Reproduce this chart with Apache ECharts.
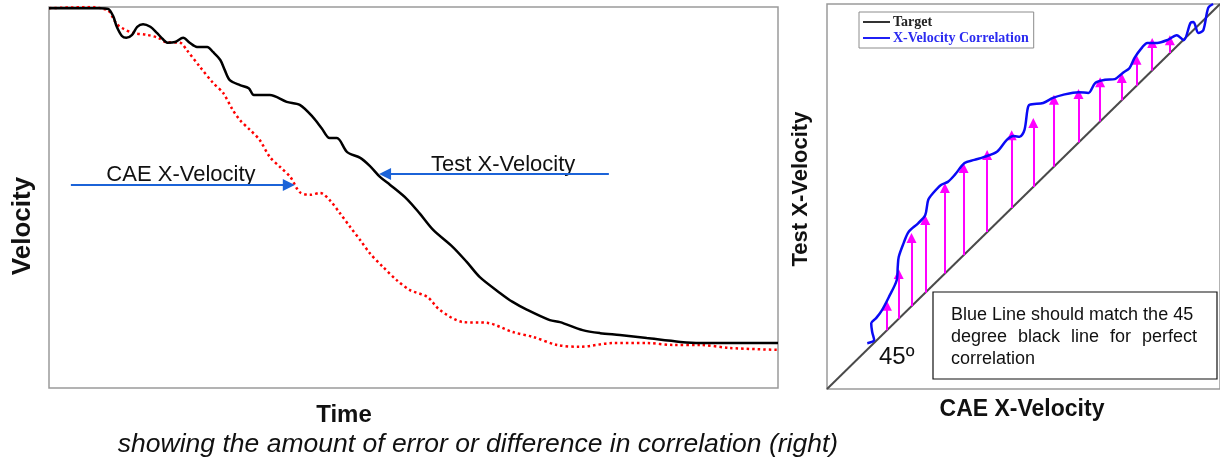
<!DOCTYPE html>
<html>
<head>
<meta charset="utf-8">
<script src="https://cdn.jsdelivr.net/npm/echarts@6/dist/echarts.min.js"></script>
<style>
  html, body { margin: 0; padding: 0; background: #fff; }
  #main { width: 1220px; height: 461px; }
</style>
</head>
<body>
<div id="main"></div>
<script>
// left panel: time (0-100) vs velocity (0-100)
var testVel = [
  [0, 99.7], [4.3, 99.7], [7.0, 99.7], [8.1, 99.5], [8.8, 97.6], [9.3, 94.8], [10.0, 92.4],
  [10.6, 91.9], [11.4, 92.7], [12.1, 94.8], [12.9, 95.5], [13.9, 94.8], [14.8, 93.2],
  [15.6, 91.6], [16.3, 90.6], [17.3, 90.8], [18.4, 91.9], [19.3, 90.6], [20.3, 89.5],
  [21.7, 89.5], [22.5, 88.2], [23.5, 86.1], [24.1, 83.5], [24.8, 80.8], [26.2, 79.5],
  [27.4, 78.7], [28.1, 76.9], [30.3, 76.9], [32.6, 75.1], [34.4, 74.3], [36.2, 71.1],
  [37.4, 68.2], [38.5, 65.6], [39.5, 65.6], [40.9, 61.9], [42.7, 60.4], [44.0, 58.3],
  [45.4, 55.4], [46.8, 53.3], [49.1, 49.6], [50.9, 45.7], [52.7, 41.5], [55.4, 37.0],
  [57.3, 33.1], [59.1, 29.1], [61.9, 24.9], [63.6, 22.6], [65.6, 20.5], [68.7, 17.8],
  [70.1, 17.3], [73.2, 15.2], [75.6, 14.4], [78.3, 13.9], [82.0, 13.1], [86.6, 12.1],
  [89.3, 11.8], [94.8, 11.8], [100, 11.8]
];
var caeVel = [
  [0, 99.7], [6.3, 100], [7.4, 99.5], [8.1, 99.2], [8.8, 97.1], [9.3, 95.5], [10.0, 94.5],
  [11.5, 93.2], [13.4, 92.7], [15.0, 91.9], [16.0, 90.8], [18.0, 90.6], [18.9, 88.7],
  [20.7, 84.3], [22.5, 80.1], [23.9, 77.4], [25.2, 73.0], [26.2, 70.3], [27.6, 67.7],
  [28.9, 65.1], [30.3, 60.6], [31.7, 58.0], [33.1, 55.4], [34.4, 51.4], [35.8, 50.7],
  [37.2, 51.2], [38.5, 49.3], [39.9, 45.9], [41.3, 42.3], [42.7, 38.8], [44.0, 35.4],
  [45.8, 31.8], [47.7, 28.3], [49.5, 25.7], [51.9, 23.9], [53.6, 20.5], [56.8, 17.3],
  [60.1, 17.1], [63.6, 14.7], [66.4, 13.4], [69.7, 11.3], [72.8, 10.8], [77.4, 11.8],
  [82.0, 11.8], [85.6, 11.3], [89.3, 11.3], [93.4, 10.5], [100, 10.0]
];
// callout arrows: [from, to] in the left panel's units
var calloutArrows = [
  [[3.0, 53.3], [32.9, 53.3]],
  [[76.8, 56.2], [46.1, 56.2]]
];
var calloutNames = ["CAE X-Velocity", "Test X-Velocity"];
var calloutPos = [[18.1, 55.9], [62.3, 58.5]];

// right panel: CAE X-velocity vs test X-velocity
var target = [[0, 0], [100, 100]];
var correlation = [
  [10.25, 11.9], [12.0, 12.7], [11.5, 14.8], [11.25, 17.1], [12.5, 18.4], [14.0, 20.5],
  [15.75, 23.9], [17.75, 28.3], [18.0, 31.7], [18.25, 34.3], [19.5, 37.9], [20.75, 40.8],
  [23.25, 43.1], [25.0, 45.2], [25.75, 49.1], [27.0, 50.9], [29.0, 53.0], [30.75, 53.8],
  [32.5, 55.6], [35.0, 58.7], [37.5, 59.5], [40.0, 60.3], [43.25, 61.6], [45.75, 64.7],
  [47.5, 65.7], [49.0, 65.5], [50.25, 67.3], [51.0, 72.5], [51.5, 73.8], [55.0, 74.3],
  [57.5, 75.6], [60.0, 76.4], [64.0, 77.1], [66.5, 76.9], [68.25, 79.5], [70.75, 80.3],
  [73.25, 80.5], [75.25, 82.1], [77.0, 83.4], [78.25, 86.0], [80.25, 88.8], [81.5, 89.9],
  [84.0, 89.9], [86.5, 90.6], [89.0, 91.9], [90.75, 90.6], [92.5, 95.1], [93.25, 95.3],
  [94.5, 92.5], [95.75, 93.2], [97.0, 99.0], [98.25, 100]
];
var errX = [15.25, 18.25, 21.5, 25.0, 30.0, 34.75, 40.75, 47.0, 52.5, 57.75, 64.0, 69.5, 75.0, 78.75, 82.75, 87.25];
var errTip = [21.6, 29.9, 39.2, 43.9, 52.2, 57.4, 60.8, 65.9, 69.1, 75.1, 76.6, 79.7, 80.8, 85.5, 89.9, 90.6];

var SANS = '"Liberation Sans", Arial, sans-serif';

var myChart = echarts.init(document.getElementById("main"));

var errArrows = errX.map(function(x, i) {
  return { coords: [[x, x], [x, errTip[i]]] };
});

function hiddenAxis(idx) {
  return { type: "value", gridIndex: idx, min: 0, max: 100, show: false };
}

var option = {
  animation: false,
  grid: [
    { left: 49, top: 7, right: 442, bottom: 73, show: true, borderColor: "#9a9a9a", borderWidth: 1.5 },
    { left: 827, top: 4, right: -7, bottom: 72, show: true, borderColor: "#9a9a9a", borderWidth: 1.5 }
  ],
  xAxis: [hiddenAxis(0), hiddenAxis(1)],
  yAxis: [hiddenAxis(0), hiddenAxis(1)],
  legend: {
    left: 859,
    top: 12,
    orient: "vertical",
    selectedMode: false,
    padding: [3, 5, 3, 4],
    itemGap: 2,
    itemWidth: 27,
    itemHeight: 2,
    icon: "rect",
    borderColor: "#8c8c8c",
    borderWidth: 1,
    textStyle: {
      fontFamily: '"Liberation Serif", serif',
      fontWeight: "bold",
      fontSize: 14,
      lineHeight: 14,
      padding: [0, 0, 0, -2]
    },
    data: [
      { name: "Target", textStyle: { color: "#222" } },
      { name: "X-Velocity Correlation", textStyle: { color: "#2b2bf0" } }
    ]
  },
  series: [
    {
      name: "Test X-Velocity",
      type: "line",
      xAxisIndex: 0, yAxisIndex: 0,
      data: testVel,
      smooth: 0.3,
      symbol: "none",
      lineStyle: { color: "#000", width: 2.5 },
      z: 3
    },
    {
      name: "CAE X-Velocity",
      type: "line",
      xAxisIndex: 0, yAxisIndex: 0,
      data: caeVel,
      smooth: 0.3,
      symbol: "none",
      lineStyle: { color: "#ff0000", width: 2.5, type: [2.5, 3] },
      z: 2
    },
    {
      type: "lines",
      coordinateSystem: "cartesian2d",
      xAxisIndex: 0, yAxisIndex: 0,
      symbol: ["none", "triangle"],
      symbolSize: 12,
      lineStyle: { color: "#1b63d8", width: 2, opacity: 1, curveness: 0 },
      data: calloutArrows.map(function(c) { return { coords: c }; }),
      z: 4
    },
    {
      type: "scatter",
      xAxisIndex: 0, yAxisIndex: 0,
      symbolSize: 0,
      silent: true,
      itemStyle: { opacity: 1 },
      label: {
        show: true,
        position: "inside",
        formatter: "{b}",
        color: "#111",
        opacity: 1,
        textBorderWidth: 0,
        fontFamily: SANS,
        fontSize: 22
      },
      data: calloutPos.map(function(p, i) { return { name: calloutNames[i], value: p }; })
    },
    {
      name: "Target",
      type: "line",
      xAxisIndex: 1, yAxisIndex: 1,
      data: target,
      symbol: "none",
      lineStyle: { color: "#4a4a4a", width: 2 },
      itemStyle: { color: "#333" },
      z: 2
    },
    {
      type: "lines",
      coordinateSystem: "cartesian2d",
      xAxisIndex: 1, yAxisIndex: 1,
      symbol: ["none", "triangle"],
      symbolSize: 10,
      lineStyle: { color: "#ff00ff", width: 2, opacity: 1, curveness: 0 },
      data: errArrows,
      z: 3
    },
    {
      name: "X-Velocity Correlation",
      type: "line",
      xAxisIndex: 1, yAxisIndex: 1,
      data: correlation,
      smooth: 0.3,
      symbol: "none",
      lineStyle: { color: "#0a0af5", width: 2.5 },
      itemStyle: { color: "#1f1ff5" },
      z: 4
    },
    {
      type: "scatter",
      xAxisIndex: 1, yAxisIndex: 1,
      symbolSize: 0,
      silent: true,
      itemStyle: { opacity: 1 },
      label: {
        show: true,
        position: "inside",
        formatter: "{b}",
        color: "#111",
        opacity: 1,
        textBorderWidth: 0,
        fontFamily: SANS,
        fontSize: 24
      },
      data: [{ name: "45º", value: [17.75, 8.3] }]
    }
  ],
  graphic: [
    // axis titles
    { type: "text", x: 23, y: 226, rotation: Math.PI / 2,
      style: { text: "Velocity", font: "bold 26px " + SANS, fill: "#111", align: "center", verticalAlign: "middle" } },
    { type: "text", x: 344, y: 415,
      style: { text: "Time", font: "bold 24px " + SANS, fill: "#111", align: "center", verticalAlign: "middle" } },
    { type: "text", x: 478, y: 445,
      style: { text: "showing the amount of error or difference in correlation (right)", font: "italic 26.5px " + SANS, fill: "#111", align: "center", verticalAlign: "middle" } },
    { type: "text", x: 801, y: 189, rotation: Math.PI / 2,
      style: { text: "Test X-Velocity", font: "bold 22px " + SANS, fill: "#111", align: "center", verticalAlign: "middle" } },
    { type: "text", x: 1022, y: 410,
      style: { text: "CAE X-Velocity", font: "bold 23px " + SANS, fill: "#111", align: "center", verticalAlign: "middle" } },
    // note box (justified middle line placed word by word)
    { type: "rect", shape: { x: 933, y: 292, width: 284, height: 87 },
      style: { fill: "#fff", stroke: "#111", lineWidth: 1.2 }, z: 10 },
    { type: "text", x: 951, y: 315, z: 11,
      style: { text: "Blue Line should match the 45", font: "18px " + SANS, fill: "#111", verticalAlign: "middle" } },
    { type: "text", x: 951, y: 337, z: 11,
      style: { text: "degree", font: "18px " + SANS, fill: "#111", verticalAlign: "middle" } },
    { type: "text", x: 1018, y: 337, z: 11,
      style: { text: "black", font: "18px " + SANS, fill: "#111", verticalAlign: "middle" } },
    { type: "text", x: 1071, y: 337, z: 11,
      style: { text: "line", font: "18px " + SANS, fill: "#111", verticalAlign: "middle" } },
    { type: "text", x: 1110, y: 337, z: 11,
      style: { text: "for", font: "18px " + SANS, fill: "#111", verticalAlign: "middle" } },
    { type: "text", x: 1197, y: 337, z: 11,
      style: { text: "perfect", font: "18px " + SANS, fill: "#111", align: "right", verticalAlign: "middle" } },
    { type: "text", x: 951, y: 359, z: 11,
      style: { text: "correlation", font: "18px " + SANS, fill: "#111", verticalAlign: "middle" } }
  ]
};

myChart.setOption(option);
</script>
</body>
</html>
